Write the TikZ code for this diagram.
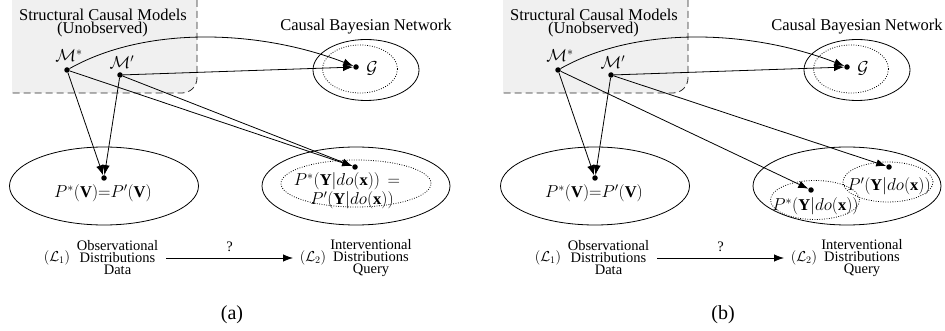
\documentclass[tikz,border=0pt]{standalone}
\usepackage{fontspec}
\setmainfont{Liberation Serif}
\usetikzlibrary{shapes.geometric,arrows.meta}
\tikzset{
 blackdot/.style={circle,fill=black,inner sep=0pt,minimum size=5.5pt},
 arr/.style={line width=0.8pt,-{Latex[length=10pt,width=7.5pt]}},
 ell/.style={ellipse,draw,line width=0.8pt,inner sep=0pt},
 dell/.style={ellipse,draw,line width=0.8pt,dash pattern=on 0.8pt off 1.6pt,inner sep=0pt},
 lbl/.style={inner sep=0pt},
 small/.style={font=\fontsize{14.5}{12}\selectfont,align=center,inner sep=0pt},
 boxline/.style={line width=0.8pt,dash pattern=on 7pt off 4pt,draw=black!85},
 boxfill/.style={fill=gray!12},
}
\newcommand\panelcommon[1]{%
 \fill[boxfill] (12,0) -- (197,0) -- (197,78) arc[start angle=0,end angle=90,radius=15] -- (12,93) -- cycle;
 \draw[boxline] (197,0) -- (197,78) arc[start angle=0,end angle=90,radius=15] -- (12,93);
 \node[lbl] (#1t1) at (103,14.5) {Structural Causal Models};
 \node[lbl] (#1t2) at (102.5,29.5) {(Unobserved)};
 \node[lbl] (#1t3) at (366,26.5) {Causal Bayesian Network};
 \node[ell,minimum width=106pt,minimum height=61pt] (#1Go) at (366,70) {};
 \node[dell,minimum width=75pt,minimum height=48pt] (#1Gi) at (360,69) {};
 \node[ell,minimum width=189pt,minimum height=78pt] (#1Vo) at (104,186) {};
 \node[ell,minimum width=188pt,minimum height=78pt] (#1Qo) at (356,186) {};
 \node[blackdot] (#1Ms) at (67,70) {};
 \node[blackdot] (#1Mp) at (120,75) {};
 \node[blackdot] (#1Gd) at (356,67) {};
 \node[blackdot] (#1Vd) at (104,178) {};
 \node[lbl] (#1Msl) at (69,56) {$\mathcal{M}^{*}$};
 \node[lbl] (#1Mpl) at (122,62) {$\mathcal{M}'$};
 \node[lbl] (#1Gl) at (372,68) {$\mathcal{G}$};
 \node[lbl] (#1Vt) at (103,193.5) {$P^{*}(\mathbf{V}){=}P'(\mathbf{V})$};
 \draw[arr] (#1Ms) .. controls +(80,-45) and +(-95,-37) .. (#1Gd);
 \draw[arr] (#1Mp) -- (#1Gd);
 \draw[arr] (#1Ms) -- (#1Vd);
 \draw[arr] (#1Mp) -- (#1Vd);
 \node[lbl] (#1L1) at (57,258) {\fontsize{14.5}{12}\selectfont$(\mathcal{L}_1)$};
 \node[small] (#1obs) at (117.5,258) {Observational\\Distributions\\Data};
 \node[lbl] (#1L2) at (313,258) {\fontsize{14.5}{12}\selectfont$(\mathcal{L}_2)$};
 \node[small] (#1int) at (371,258) {Interventional\\Distributions\\Query};
 \coordinate (#1qa) at (166,258);
 \coordinate (#1qb) at (293,258);
 \draw[arr] (#1qa) -- node[lbl,above=6pt,font=\fontsize{14.5}{12}\selectfont] (#1q) {?} (#1qb);
}
\begin{document}
\begin{tikzpicture}[x=1pt,y=-1pt,font=\fontsize{16.5}{18}\selectfont]
\useasboundingbox (0,0) rectangle (945,331);
\begin{scope}
 \panelcommon{a}
 \node[dell,minimum width=150pt,minimum height=47pt] (aQi) at (356,183.5) {};
 \node[blackdot] (aQd) at (355,167) {};
 \node[lbl] (aQt1) at (347,181.5) {$P^{*}(\mathbf{Y}|do(\mathbf{x}))\,=$};
 \node[lbl] (aQt2) at (352,200) {$P'(\mathbf{Y}|do(\mathbf{x}))$};
 \draw[arr] (aMs) -- (aQd);
 \draw[arr] (aMp) -- (aQd);
 \node[lbl,font=\fontsize{20}{22}\selectfont] (acap) at (232,315) {(a)};
\end{scope}
\begin{scope}[shift={(491,0)}]
 \panelcommon{b}
 \node[dell,minimum width=90pt,minimum height=40pt] (bPp) at (397,182) {};
 \node[dell,minimum width=89pt,minimum height=39pt] (bPs) at (324,200) {};
 \node[blackdot] (bPpd) at (398,167) {};
 \node[blackdot] (bPsd) at (320,190) {};
 \node[lbl] (bPpt) at (398,186) {$P'(\mathbf{Y}|do(\mathbf{x}))$};
 \node[lbl] (bPst) at (324.5,206) {$P^{*}(\mathbf{Y}|do(\mathbf{x}))$};
 \draw[arr] (bMs) -- (bPsd);
 \draw[arr] (bMp) -- (bPpd);
 \node[lbl,font=\fontsize{20}{22}\selectfont] (bcap) at (232,315) {(b)};
\end{scope}
\end{tikzpicture}
\end{document}
